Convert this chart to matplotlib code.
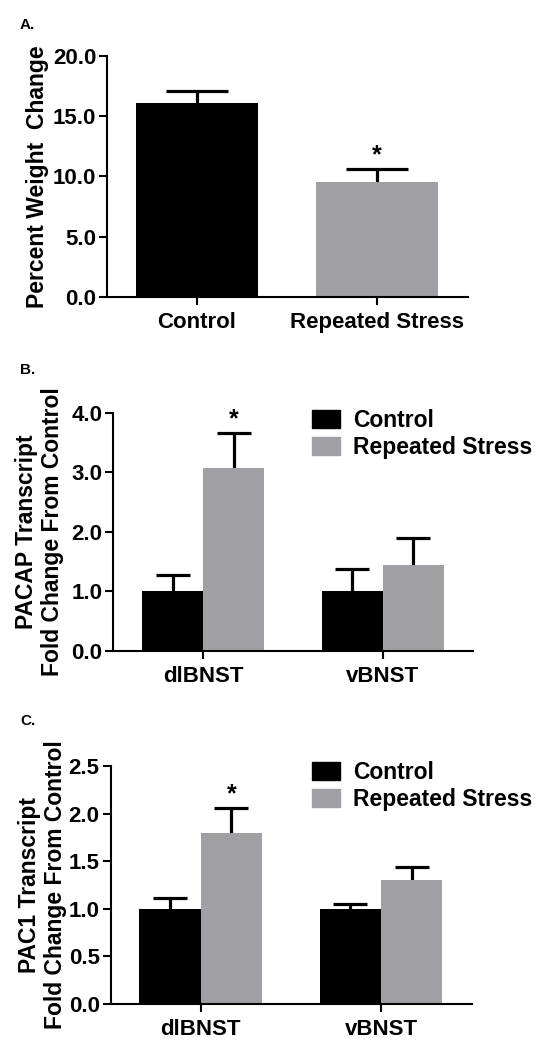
import matplotlib
matplotlib.use('Agg')
import matplotlib.pyplot as plt
import numpy as np

plt.rcParams['font.family'] = ['Liberation Sans', 'DejaVu Sans']
plt.rcParams['font.weight'] = 'bold'

# panel A data
a_groups = ['Control', 'Repeated Stress']
a_mean = [16.1, 9.5]
a_err = [1.0, 1.1]
a_sig = [False, True]

# panel B data (PACAP)
regions = ['dlBNST', 'vBNST']
b_control = [1.0, 1.0]
b_control_err = [0.28, 0.37]
b_stress = [3.07, 1.45]
b_stress_err = [0.60, 0.45]
b_sig = [True, False]

# panel C data (PAC1)
c_control = [1.0, 1.0]
c_control_err = [0.11, 0.05]
c_stress = [1.80, 1.30]
c_stress_err = [0.26, 0.14]
c_sig = [True, False]

black = '#000000'
grey = '#a0a0a4'

fig = plt.figure(figsize=(5.43, 10.5), dpi=100)


def style_axes(ax):
    for s in ['top', 'right']:
        ax.spines[s].set_visible(False)
    for s in ['left', 'bottom']:
        ax.spines[s].set_linewidth(1.5)
    ax.tick_params(axis='both', width=1.5, length=5.8, labelsize=16)
    ax.tick_params(axis='y', pad=2)
    ax.tick_params(axis='x', pad=5)
    ax.yaxis.set_major_formatter(matplotlib.ticker.FormatStrFormatter('%.1f'))
    for lab in ax.get_xticklabels() + ax.get_yticklabels():
        lab.set_fontweight('bold')


def draw_err(ax, x, means, errs, cap):
    # upper error bars only, lower cap hidden
    eb = ax.errorbar(x, means, yerr=[np.zeros(len(errs)), errs], fmt='none',
                     ecolor='black', elinewidth=2.3, capsize=cap, capthick=2.3, zorder=1)
    eb[1][0].set_visible(False)


def draw_bars(ax, x, means, errs, color, width, cap):
    ax.bar(x, means, width=width, color=color, zorder=2)
    draw_err(ax, x, means, errs, cap)


def add_stars(ax, x, means, errs, sig):
    for xi, m, e, s in zip(x, means, errs, sig):
        if s:
            ax.annotate('*', (xi, m + e), xytext=(0, 1), textcoords='offset points',
                        ha='center', va='bottom', fontsize=18, fontweight='bold')


# ---- panel A ----
axA = fig.add_axes([0.197, 0.717, 0.665, 0.230])
xa = np.arange(len(a_groups))
axA.bar(xa, a_mean, width=0.678, color=[black, grey], zorder=2)
draw_err(axA, xa, a_mean, a_err, 22)
add_stars(axA, xa, a_mean, a_err, a_sig)
axA.set_xlim(-0.5, 1.506)
axA.set_ylim(0, 20)
axA.set_yticks([0, 5, 10, 15, 20])
axA.set_xticks(xa)
axA.set_xticklabels(a_groups)
axA.set_ylabel('Percent Weight  Change', fontsize=16.5, fontweight='bold')
axA.yaxis.set_label_coords(-0.161, 0.5)
style_axes(axA)
fig.text(20 / 543, 1 - 25 / 1050, 'A.', fontsize=11, fontweight='bold', va='center')

# ---- panels B and C ----
panels = [
    ([0.2087, 0.380, 0.662, 0.2267], b_control, b_control_err, b_stress, b_stress_err, b_sig,
     (0, 4), [0, 1, 2, 3, 4], 'PACAP Transcript\nFold Change From Control', -0.137,
     (-0.502, 1.502), 'B.', 1 - 370 / 1050, (0.5746, 1 - 409 / 1050)),
    ([0.2035, 0.0438, 0.6657, 0.2267], c_control, c_control_err, c_stress, c_stress_err, c_sig,
     (0, 2.5), [0, 0.5, 1.0, 1.5, 2.0, 2.5], 'PAC1 Transcript\nFold Change From Control', -0.121,
     (-0.5, 1.504), 'C.', 1 - 721 / 1050, (0.574, 1 - 761 / 1050)),
]

for (rect, ctl, ctl_err, st, st_err, sig, ylim, yticks, ylabel, lab_x,
     xlim, tag, tag_y, leg_anchor) in panels:
    ax = fig.add_axes(rect)
    xg = np.arange(len(regions))
    w = 0.34
    draw_bars(ax, xg - w / 2, ctl, ctl_err, black, w, 12)
    draw_bars(ax, xg + w / 2, st, st_err, grey, w, 12)
    add_stars(ax, xg + w / 2, st, st_err, sig)
    ax.set_xlim(*xlim)
    ax.set_ylim(*ylim)
    ax.set_yticks(yticks)
    ax.set_xticks(xg)
    ax.set_xticklabels(regions)
    ax.set_ylabel(ylabel, fontsize=16.5, fontweight='bold', linespacing=1.15)
    ax.yaxis.set_label_coords(lab_x, 0.5)
    style_axes(ax)
    handles = [matplotlib.patches.Patch(color=black), matplotlib.patches.Patch(color=grey)]
    ax.legend(handles, ['Control', 'Repeated Stress'], loc='upper left',
              bbox_to_anchor=leg_anchor, bbox_transform=fig.transFigure,
              frameon=False, borderpad=0, borderaxespad=0,
              handlelength=1.22, handleheight=0.79, handletextpad=0.57, labelspacing=0.18,
              prop={'weight': 'bold', 'size': 16.5})
    fig.text(20 / 543, tag_y, tag, fontsize=11, va='center')

plt.savefig('out.png', dpi=100)
plt.close()
